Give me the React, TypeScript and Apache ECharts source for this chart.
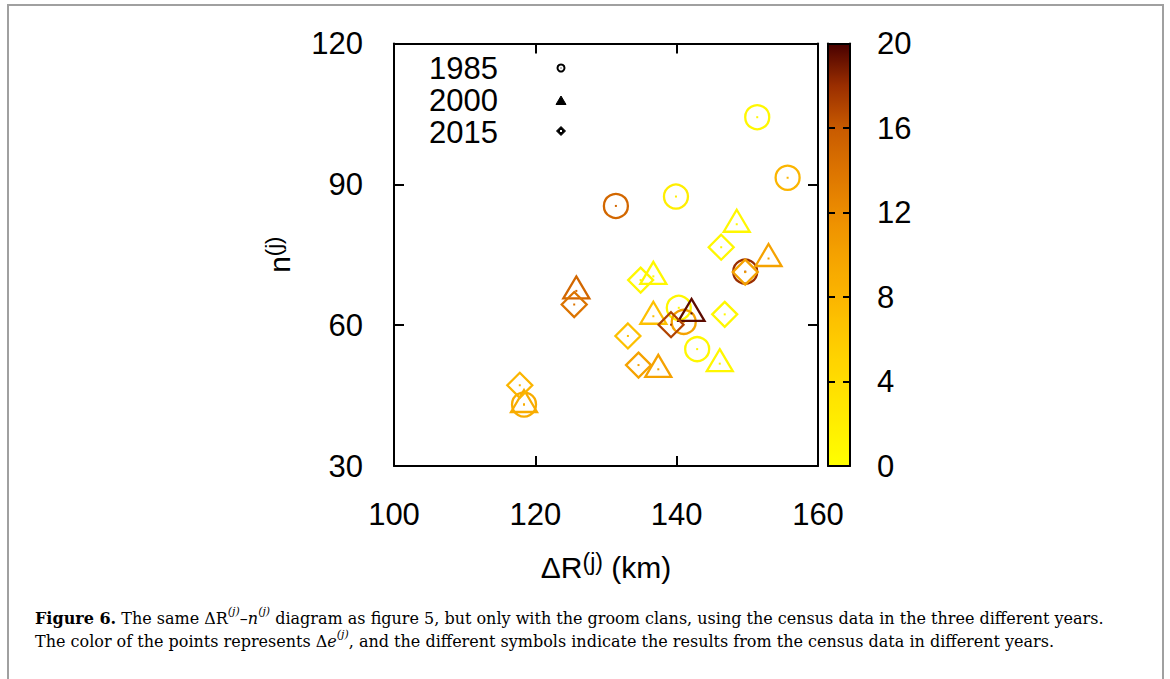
import React, { useEffect, useRef } from "react";
import * as echarts from "echarts";

// ---- data ----
const x1985 = [151.4, 155.7, 139.9, 131.4, 149.7, 140.3, 141.0, 142.9, 118.4];
const y1985 = [104.3, 91.4, 87.4, 85.4, 71.4, 63.7, 60.7, 54.9, 43.1];
const c1985 = [1, 8, 2, 15, 18, 1, 10, 1, 9];

const x2000 = [148.5, 153.0, 136.7, 125.8, 136.7, 142.1, 146.1, 137.4, 118.4];
const y2000 = [81.5, 74.2, 70.4, 67.3, 61.9, 62.5, 51.8, 50.6, 43.1];
const c2000 = [1, 10, 1, 15, 7, 19.5, 1, 10, 9];

const x2015 = [146.3, 149.7, 134.9, 125.5, 146.8, 139.2, 133.1, 134.6, 117.8];
const y2015 = [76.6, 71.3, 69.6, 64.4, 62.3, 60.1, 57.7, 51.5, 47.2];
const c2015 = [1, 10, 1, 14, 1, 17, 7, 10, 8];

const years = ["1985", "2000", "2015"];
const xTicks = { min: 100, max: 160, interval: 20 };
const yTicks = { min: 30, max: 120, interval: 30 };
const cTicks = { min: 0, max: 20, interval: 4 };

const palette = [
  "#ffff00", "#ffee00", "#ffdd00", "#feca00", "#fbb500", "#f5a200",
  "#ec8c00", "#dc7400", "#c85a00", "#9a2e00", "#480000",
];

const SANS = "Liberation Sans";
const SERIF = "DejaVu Serif";
const FS = 31;

function build(xs: number[], ys: number[], cs: number[]) {
  return xs.map((x, i) => [x, ys[i], cs[i]]);
}

function makeRender(kind: string) {
  return (params: any, api: any) => {
    const p = api.coord([api.value(0), api.value(1)]);
    const c = api.visual("color");
    const st = { fill: "none", stroke: c, lineWidth: 2.3 };
    let outline: any;
    if (kind === "circle") {
      outline = { type: "circle", shape: { cx: p[0], cy: p[1], r: 12 }, style: st };
    } else if (kind === "triangle") {
      outline = {
        type: "polygon",
        shape: { points: [[p[0], p[1] - 14.5], [p[0] + 13, p[1] + 7.5], [p[0] - 13, p[1] + 7.5]] },
        style: st,
      };
    } else {
      outline = {
        type: "polygon",
        shape: { points: [[p[0], p[1] - 12.5], [p[0] + 12.5, p[1]], [p[0], p[1] + 12.5], [p[0] - 12.5, p[1]]] },
        style: st,
      };
    }
    return {
      type: "group",
      children: [
        outline,
        { type: "rect", shape: { x: p[0] - 1, y: p[1] - 1, width: 2, height: 2 }, style: { fill: c } },
      ],
    };
  };
}

const axisLine = { show: true, onZero: false, lineStyle: { color: "#000", width: 2 } };

export default function App() {
  const ref = useRef<HTMLDivElement>(null);
  useEffect(() => {
    if (!ref.current) return;
    const chart = echarts.init(ref.current, null, { renderer: "svg" });
    const cfs = 16;
    const capRich = {
      b: { fontFamily: SERIF, fontWeight: "bold", fontSize: cfs, lineHeight: 24, color: "#000" },
      n: { fontFamily: SERIF, fontSize: cfs, lineHeight: 24, color: "#000" },
      i: { fontFamily: SERIF, fontStyle: "italic", fontSize: cfs, lineHeight: 24, color: "#000" },
      s: { fontFamily: SERIF, fontStyle: "italic", fontSize: 11, lineHeight: 18, verticalAlign: "top", color: "#000" },
      l: { fontFamily: SERIF, fontSize: cfs, lineHeight: 24, color: "#1f8ad0" },
    };
    const option: any = {
      animation: false,
      backgroundColor: "#fff",
      grid: [
        { left: 394, top: 43.5, width: 424, height: 422.5 },
        { left: 828, top: 43.5, width: 22, height: 422.5 },
      ],
      xAxis: [
        {
          gridIndex: 0, type: "value", position: "bottom", ...xTicks,
          axisLine, axisTick: { inside: true, length: 10, lineStyle: { color: "#000", width: 2 } },
          axisLabel: { fontFamily: SANS, fontSize: FS, color: "#000", margin: 33 },
          splitLine: { show: false },
          name: "{a|ΔR}{s|(j)}{a| (km)}",
          nameLocation: "middle",
          nameGap: 84,
          nameTextStyle: {
            rich: {
              a: { fontFamily: SANS, fontSize: 30, lineHeight: 34, color: "#000" },
              s: { fontFamily: SANS, fontSize: 23, lineHeight: 24, verticalAlign: "top", color: "#000" },
            },
          },
        },
        {
          gridIndex: 0, type: "value", position: "top", ...xTicks,
          axisLine, axisTick: { inside: true, length: 10, lineStyle: { color: "#000", width: 2 } },
          axisLabel: { show: false }, splitLine: { show: false },
        },
        {
          gridIndex: 1, type: "value", position: "bottom", min: 0, max: 1, z: 10,
          axisLine, axisTick: { show: false }, axisLabel: { show: false }, splitLine: { show: false },
        },
        {
          gridIndex: 1, type: "value", position: "top", min: 0, max: 1, z: 10,
          axisLine, axisTick: { show: false }, axisLabel: { show: false }, splitLine: { show: false },
        },
      ],
      yAxis: [
        {
          gridIndex: 0, type: "value", position: "left", ...yTicks,
          axisLine, axisTick: { inside: true, length: 10, lineStyle: { color: "#000", width: 2 } },
          axisLabel: { fontFamily: SANS, fontSize: FS, color: "#000", margin: 31 },
          splitLine: { show: false },
          name: "{a|n}{s|(j)}",
          nameLocation: "middle",
          nameGap: 98,
          nameRotate: 90,
          nameTextStyle: {
            rich: {
              a: { fontFamily: SANS, fontSize: 30, lineHeight: 34, color: "#000" },
              s: { fontFamily: SANS, fontSize: 22, lineHeight: 24, verticalAlign: "top", color: "#000" },
            },
          },
        },
        {
          gridIndex: 0, type: "value", position: "right", ...yTicks,
          axisLine, axisTick: { inside: true, length: 10, lineStyle: { color: "#000", width: 2 } },
          axisLabel: { show: false }, splitLine: { show: false },
        },
        {
          gridIndex: 1, type: "value", position: "right", ...cTicks, z: 10,
          axisLine, axisTick: { inside: true, length: 7, lineStyle: { color: "#000", width: 2 } },
          axisLabel: { fontFamily: SANS, fontSize: FS, color: "#000", margin: 27 },
          splitLine: { show: false },
        },
        {
          gridIndex: 1, type: "value", position: "left", ...cTicks, z: 10,
          axisLine, axisTick: { inside: true, length: 7, lineStyle: { color: "#000", width: 2 } },
          axisLabel: { show: false }, splitLine: { show: false },
        },
      ],
      visualMap: {
        type: "continuous",
        min: cTicks.min,
        max: cTicks.max,
        dimension: 2,
        seriesIndex: [0, 1, 2],
        inRange: { color: palette },
        calculable: false,
        hoverLink: false,
        itemWidth: 22,
        itemHeight: 422.5,
        left: 828,
        top: 43.5,
        padding: 0,
        showLabel: false,
        z: 2,
      },
      series: [
        {
          type: "custom", name: years[0], xAxisIndex: 0, yAxisIndex: 0,
          data: build(x1985, y1985, c1985), encode: { x: 0, y: 1 },
          renderItem: makeRender("circle"),
        },
        {
          type: "custom", name: years[1], xAxisIndex: 0, yAxisIndex: 0,
          data: build(x2000, y2000, c2000), encode: { x: 0, y: 1 },
          renderItem: makeRender("triangle"),
        },
        {
          type: "custom", name: years[2], xAxisIndex: 0, yAxisIndex: 0,
          data: build(x2015, y2015, c2015), encode: { x: 0, y: 1 },
          renderItem: makeRender("diamond"),
        },
      ],
      graphic: [
        {
          type: "rect", silent: true, z: 100,
          shape: { x: 8, y: 5, width: 1155, height: 720 },
          style: { fill: "none", stroke: "#a0a0a0", lineWidth: 2 },
        },
        // legend (one multi-line text)
        {
          type: "text", z: 50,
          style: {
            x: 498, y: 100.5, text: years.join("\n"),
            fontFamily: SANS, fontSize: FS, lineHeight: 32, fill: "#000",
            align: "right", verticalAlign: "middle",
          },
        },
        { type: "circle", z: 50, shape: { cx: 561, cy: 68, r: 3.5 }, style: { fill: "#fff", stroke: "#000", lineWidth: 2 } },
        { type: "rect", z: 51, shape: { x: 560.5, y: 67.5, width: 1, height: 1 }, style: { fill: "#000" } },
        { type: "polygon", z: 50, shape: { points: [[561, 96], [566, 104.5], [556, 104.5]] }, style: { fill: "#000", stroke: "#000", lineWidth: 1 } },
        { type: "polygon", z: 50, shape: { points: [[561, 126.5], [565.5, 131], [561, 135.5], [556.5, 131]] }, style: { fill: "#000", stroke: "#000", lineWidth: 1 } },
        { type: "rect", z: 51, shape: { x: 560, y: 130, width: 2, height: 2 }, style: { fill: "#fff" } },
        // caption
        {
          type: "text", z: 50,
          style: {
            x: 35, y: 606,
            text: "{b|Figure 6.}{n| The same ΔR}{s|(j)}{n|–}{i|n}{s|(j)}{n| diagram as figure }{l|5}{n|, but only with the groom clans, using the census data in the three different years.}",
            rich: capRich, verticalAlign: "top", align: "left",
          },
        },
        {
          type: "text", z: 50,
          style: {
            x: 35, y: 629,
            text: "{n|The color of the points represents Δ}{i|e}{s|(j)}{n|, and the different symbols indicate the results from the census data in different years.}",
            rich: capRich, verticalAlign: "top", align: "left",
          },
        },
      ],
    };
    chart.setOption(option);
    return () => chart.dispose();
  }, []);
  return (
    <div
      ref={ref}
      style={{ position: "fixed", left: 0, top: 0, width: 1170, height: 679, background: "#fff" }}
    />
  );
}
